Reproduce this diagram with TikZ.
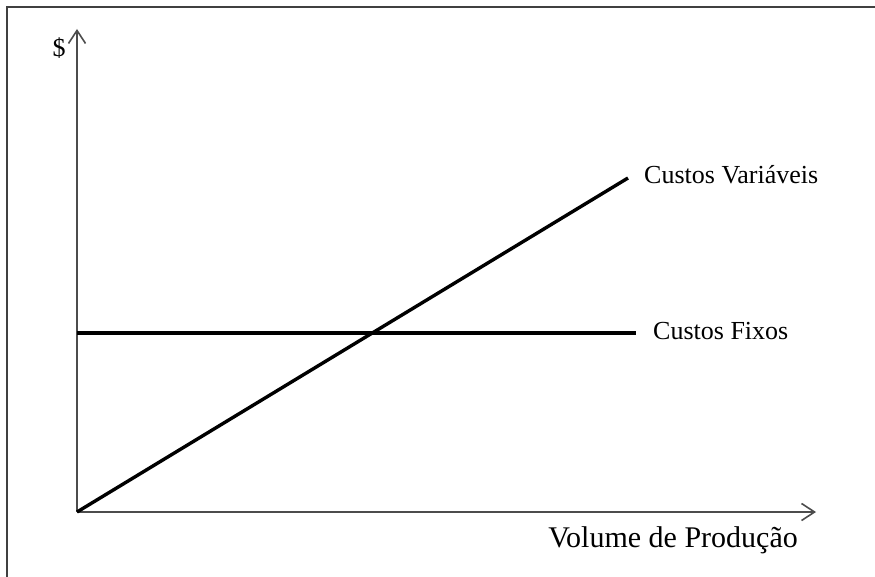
\documentclass[tikz,border=0pt]{standalone}
\usepackage{fontspec}
\setmainfont{Liberation Serif}
\usetikzlibrary{arrows.meta}

\begin{document}
\begin{tikzpicture}[x=1pt, y=-1pt,
    axis/.style={line width=1.6pt, draw=black!70, -{Straight Barb[length=13pt,width=17pt,line width=1.6pt]}},
    cost/.style={line width=3.4pt, black},
    lbl/.style={anchor=west, inner sep=0pt, font=\fontsize{26}{30}\selectfont}]

    \useasboundingbox (0,0) rectangle (875,577);

    % frame of the figure
    \draw[line width=1.6pt, black!75] (7,577) -- (7,7) -- (875,7);

    % axes
    \coordinate (O) at (77,512);
    \coordinate (ytop) at (77,29);
    \coordinate (xend) at (816,512);
    \draw[axis] (O) -- (ytop);
    \draw[axis] (O) -- (xend);
    \node[inner sep=0pt, font=\fontsize{26}{30}\selectfont] (dollar) at (59,48) {\$};
    \node[anchor=east, inner sep=0pt, font=\fontsize{30}{34}\selectfont] (vol) at (798,540) {Volume de Produção};

    % fixed costs
    \coordinate (fa) at (77,333);
    \coordinate (fb) at (636,333);
    \draw[cost] (fa) -- (fb);
    \node[lbl] (fixos) at (653,331) {Custos Fixos};

    % variable costs
    \coordinate (cv) at (628,178);
    \draw[cost] (O) -- (cv);
    \node[lbl] (variaveis) at (644,175) {Custos Variáveis};

\end{tikzpicture}
\end{document}
